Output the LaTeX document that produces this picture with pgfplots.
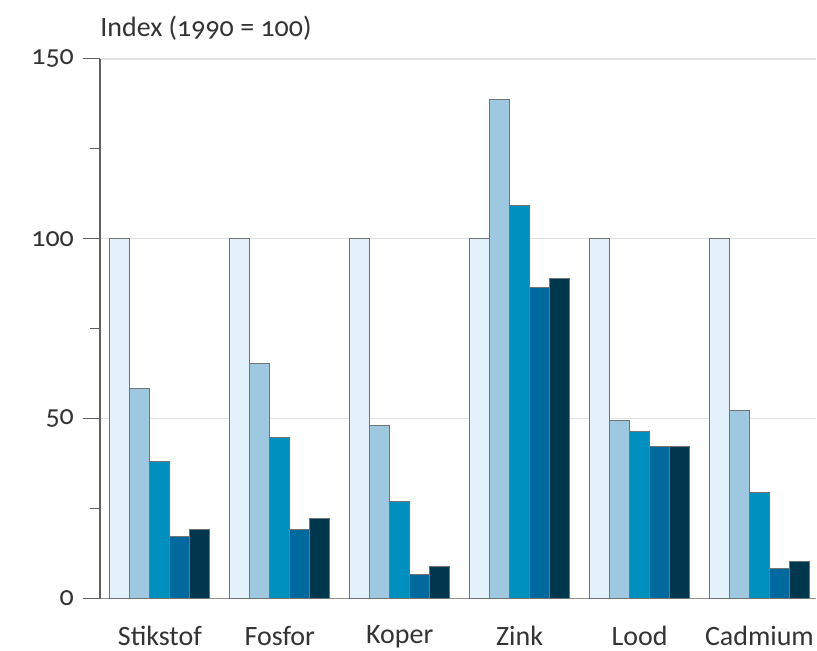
\documentclass[border=0pt]{standalone}
\usepackage{fontspec}
\setmainfont[Numbers=OldStyle]{Carlito}
\usepackage{pgfplots}
\pgfplotsset{compat=1.18}
\definecolor{c1}{HTML}{E3F2FA}
\definecolor{c2}{HTML}{9DC8E0}
\definecolor{c3}{HTML}{0090BF}
\definecolor{c4}{HTML}{006A9E}
\definecolor{c5}{HTML}{00374F}
\definecolor{axgray}{HTML}{606060}
\definecolor{gridgray}{HTML}{E2E2E2}
\begin{document}
\begin{tikzpicture}
\begin{axis}[
    scale only axis,
    width=358.5pt, height=270pt,
    ybar=0pt, bar width=10pt,
    xmin=-0.5, xmax=5.475,
    ymin=0, ymax=150,
    xtick={0,...,5},
    xticklabels={Stikstof, Fosfor, Koper, Zink, Lood, Cadmium},
    ytick={0,50,100,150},
    minor ytick={25,75,125},
    axis x line=bottom, axis y line=left,
    axis line style={-, draw=axgray, line width=0.6pt},
    x axis line style={draw=axgray!70},
    xtick style={draw=none},
    ytick style={draw=axgray, line width=0.5pt},
    major tick length=8.5pt, minor tick length=5pt,
    tick align=outside,
    ymajorgrids, grid style={draw=gridgray, line width=0.6pt},
    tick label style={font=\fontsize{14}{16}\selectfont, text=black!80},
    /pgf/number format/assume math mode=true,
    xticklabel style={inner sep=0pt, yshift=-5pt},
    yticklabel style={xshift=-1pt},
    every axis plot/.append style={draw=black!55, line width=0.5pt},
    clip=false,
]
\addplot[fill=c1] coordinates {(0,100) (1,100) (2,100) (3,100) (4,100) (5,100)};
\addplot[fill=c2] coordinates {(0,58.3) (1,65.3) (2,48) (3,138.6) (4,49.4) (5,52.2)};
\addplot[fill=c3] coordinates {(0,38) (1,44.7) (2,27) (3,109.2) (4,46.4) (5,29.4)};
\addplot[fill=c4] coordinates {(0,17.2) (1,19.2) (2,6.7) (3,86.4) (4,42.2) (5,8.3)};
\addplot[fill=c5] coordinates {(0,19.2) (1,22.2) (2,8.9) (3,88.9) (4,42.2) (5,10.3)};
\node[anchor=base west, inner sep=0pt, font=\fontsize{14}{16}\selectfont, text=black!80]
  at (rel axis cs:0,1) [yshift=11pt] {Index (1990 = 100)};
% page margins of the reference
\path (rel axis cs:0,0) ++(-50pt,-26pt) coordinate (bbsw);
\path (rel axis cs:1,1) ++(0pt,29.5pt) coordinate (bbne);
\end{axis}
\end{tikzpicture}
\end{document}
